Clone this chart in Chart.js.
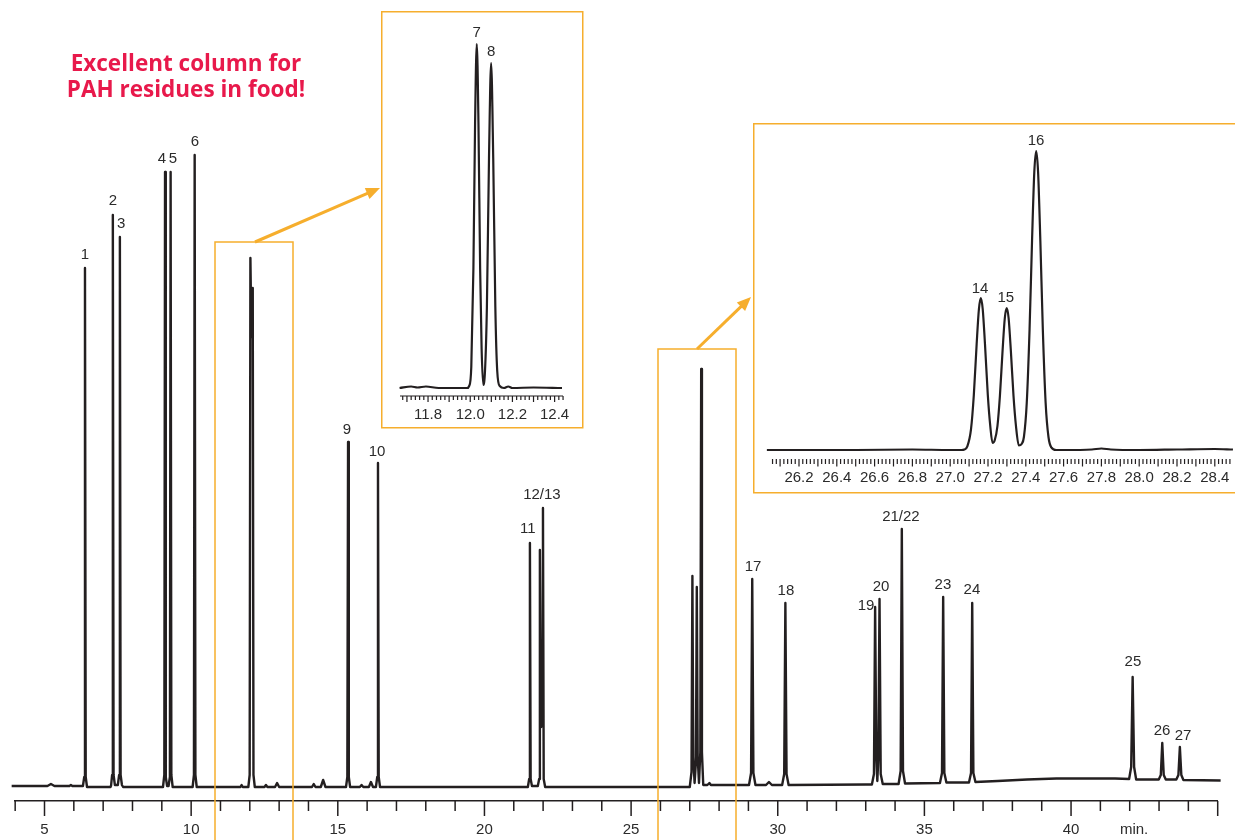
<!DOCTYPE html>
<html><head><meta charset="utf-8">
<script src="https://cdn.jsdelivr.net/npm/chart.js@4.4.1/dist/chart.umd.min.js"></script>
<style>
html,body{margin:0;padding:0;background:#fff;}
body{width:1235px;height:840px;position:relative;overflow:hidden;}
canvas{position:absolute;display:block;}
.bg{position:absolute;background:#fff;}
#main{left:0;top:0;}
#inset1{left:381px;top:11px;}
#inset2{left:753px;top:123px;}
#title{position:absolute;left:36px;top:50px;width:300px;text-align:center;font:700 22.5px/25.6px "Open Sans",sans-serif;color:#e8194b;}
svg{position:absolute;left:0;top:0;pointer-events:none;}
</style></head>
<body>
<canvas id="main" width="1235" height="840"></canvas>
<div class="bg" style="left:381px;top:11px;width:202px;height:417px;"></div>
<div class="bg" style="left:753px;top:123px;width:482px;height:370px;"></div>
<canvas id="inset1" width="260" height="417"></canvas>
<canvas id="inset2" width="540" height="370"></canvas>
<svg width="1235" height="840">
  <g fill="none" stroke="#f6ae2d" stroke-width="1.5">
    <rect x="215" y="242" width="78" height="640"/>
    <rect x="658" y="349" width="78" height="540"/>
    <rect x="381.75" y="11.75" width="201" height="416"/>
    <rect x="753.75" y="123.75" width="520" height="369"/>
  </g>
  <g stroke="#f6ae2d" stroke-width="3" fill="#f6ae2d">
    <line x1="255" y1="242" x2="368" y2="193.2"/>
    <polygon points="380,188 369.5,199.1 364.8,188.0" stroke="none"/>
    <line x1="697" y1="349" x2="741.5" y2="306.2"/>
    <polygon points="751,297 745.1,311.0 736.8,302.4" stroke="none"/>
  </g>
</svg>
<div id="title">Excellent column for<br>PAH residues in food!</div>
<script>
// ---------- data ----------
// main chromatogram trace: [retention time (min), detector signal]
const mainTrace = [
 [3.88,1],[5.10,1],[5.22,3],[5.34,1],[5.85,1],[5.90,2],[5.95,1],
 [6.31,1],[6.355,10],[6.38,519],[6.405,10],[6.45,0],
 [7.25,0],[7.27,1.5],[7.305,12],[7.33,572],[7.355,12],[7.40,2],[7.50,2],[7.545,12],[7.57,550],[7.595,12],[7.64,2],[7.68,0],
 [9.04,0],[9.085,12],[9.11,615],[9.135,10],[9.18,1],[9.23,1],[9.275,10],[9.30,615],[9.325,12],[9.37,0],
 [10.05,0],[10.095,12],[10.12,632],[10.145,12],[10.19,0],
 [11.68,0],[11.72,2],[11.76,0],
 [11.95,0],[11.995,12],[12.02,529],[12.055,450],[12.10,499],[12.125,12],[12.17,0],
 [12.50,0],[12.55,2],[12.60,0],[12.86,0],[12.93,4],[13.00,0],
 [14.12,0],[14.18,3],[14.24,0],[14.42,0],[14.50,7],[14.58,0],
 [15.28,0],[15.325,10],[15.35,345],[15.375,10],[15.42,0],
 [15.75,0],[15.81,2],[15.87,0],[16.06,0],[16.13,5],[16.20,0],
 [16.30,0],[16.345,10],[16.37,324],[16.395,10],[16.44,0],
 [21.48,0],[21.525,8],[21.55,244],[21.575,8],[21.62,1],
 [21.82,1],[21.865,8],[21.89,237],[21.935,60],[21.97,80],[21.995,279],[22.02,8],[22.07,0],
 [27.00,0],[27.06,15],[27.09,211],[27.12,30],[27.165,4],[27.21,25],[27.24,200],[27.27,30],[27.315,4],[27.36,35],[27.39,418],[27.415,35],[27.46,2],
 [27.60,2],[27.67,4],[27.72,2],
 [29.02,2],[29.09,14],[29.13,208],[29.17,14],[29.24,2],
 [29.60,2],[29.70,5],[29.80,2],
 [30.15,2],[30.22,13],[30.26,184],[30.30,13],[30.37,2],
 [33.00,2.5],
 [33.21,2.5],[33.28,13],[33.32,180],[33.36,30],[33.395,6],[33.43,30],[33.47,188],[33.51,13],[33.58,3],
 [34.12,3],[34.19,16],[34.23,258],[34.27,16],[34.34,3.5],
 [35.53,4],[35.60,14],[35.64,190],[35.68,14],[35.75,4.5],
 [36.52,4.5],[36.59,14],[36.63,184],[36.67,14],[36.74,5],
 [37.50,6],[38.50,7.5],[39.50,8.5],[40.50,8.5],[41.50,8.5],
 [41.98,8],[42.05,20],[42.10,110],[42.15,20],[42.22,7.5],
 [42.99,7.5],[43.06,12],[43.11,44],[43.16,12],[43.23,7.5],
 [43.59,7.5],[43.66,12],[43.71,40],[43.76,12],[43.83,7],
 [45.10,6.5]
];
const mainTickValues = [5,10,15,20,25,30,35,40];
const mainUnitLabel = 'min.';
const peakLabels      = ['1','2','3','4','5','6','9','10','11','12/13','17','18','19','20','21/22','23','24','25','26','27'];
const peakLabelTime   = [6.38,7.335,7.61,9.006,9.38,10.13,15.31,16.34,21.48,21.96,29.16,30.28,33.01,33.52,34.20,35.63,36.62,42.11,43.10,43.82];
const peakLabelSignal = [532,586,563,628,628,645,357,335,258,292,220,196,181,200,270,202,197,125,56,51];

// inset 1: peaks 7 / 8
const inset1Trace = [
 [11.665,0],[11.72,1.5],[11.75,0.5],[11.79,1.5],[11.85,0],[11.985,0],[11.995,2],[12.005,21],[12.015,119],[12.023,265],[12.031,344],
 [12.039,265],[12.047,119],[12.054,39],[12.062,3],[12.07,17],[12.079,81],[12.089,230],[12.099,325],[12.109,230],
 [12.119,81],[12.128,17],[12.14,2],[12.16,0],[12.18,1.5],[12.20,0],[12.30,0.5],[12.435,0]
];
const inset1TickValues = [11.8,12.0,12.2,12.4];
const inset1Labels = ['7','8'];
const inset1LabelTime = [12.031,12.099];
const inset1LabelSignal = [355,336];

// inset 2: peaks 14 / 15 / 16
const inset2Trace = [
 [26.03,0],[26.5,0],[26.8,0.5],[27.0,0],[27.06,0],[27.075,0.5],[27.09,3.3],[27.11,20.6],[27.125,55],[27.14,106],[27.152,141],[27.162,152],
 [27.172,141],[27.184,106],[27.199,55],[27.212,24],[27.224,7],[27.236,10],[27.25,24],[27.263,54],[27.277,99],
 [27.289,132],[27.299,142],[27.309,132],[27.321,99],[27.335,54],[27.348,24],[27.363,4.5],[27.378,6],[27.39,13],
 [27.405,47],[27.42,121],[27.433,209],[27.445,278],[27.455,299],[27.465,278],[27.477,209],[27.49,121],[27.505,47],
 [27.52,13],[27.535,2.6],[27.56,0],[27.6,0],[27.75,0.5],[27.8,1.5],[27.85,0.5],[28.0,0],[28.2,0.5],[28.4,1],[28.496,0.5]
];
const inset2TickValues = [26.2,26.4,26.6,26.8,27.0,27.2,27.4,27.6,27.8,28.0,28.2,28.4];
const inset2Labels = ['14','15','16'];
const inset2LabelTime = [27.158,27.294,27.454];
const inset2LabelSignal = [161,152,309];

// ---------- drawing ----------
const INK = '#231f20';
const TXT = '#2b2b2b';
const FONT = '"Liberation Sans", Arial, sans-serif';
Chart.defaults.font.family = FONT;

const tickMarks = {
  id: 'tickMarks',
  afterDraw(chart, args, o) {
    const xs = chart.scales.x, ctx = chart.ctx, b = chart.chartArea.bottom;
    ctx.save();
    ctx.strokeStyle = INK; ctx.lineWidth = o.width;
    const n = Math.round((o.to - o.from) / o.step);
    ctx.beginPath();
    for (let i = 0; i <= n; i++) {
      const v = o.from + i * o.step;
      const r = v / o.major;
      const isMajor = Math.abs(r - Math.round(r)) < 1e-6;
      const px = xs.getPixelForValue(v);
      ctx.moveTo(px, b + o.y0);
      ctx.lineTo(px, b + o.y0 + (isMajor ? o.majorLen : o.minorLen));
    }
    if (o.line) {
      ctx.moveTo(xs.getPixelForValue(o.line[0]), b + o.y0);
      ctx.lineTo(xs.getPixelForValue(o.line[1]), b + o.y0);
    }
    ctx.stroke();
    if (o.unit) {
      ctx.fillStyle = TXT; ctx.font = '15px ' + FONT;
      ctx.textAlign = 'center'; ctx.textBaseline = 'middle';
      ctx.fillText(o.unit.text, xs.getPixelForValue(o.unit.at), b + o.unit.dy);
    }
    ctx.restore();
  }
};
const peakText = {
  id: 'peakText',
  afterDatasetsDraw(chart, args, o) {
    const xs = chart.scales.x, ys = chart.scales.y, ctx = chart.ctx;
    ctx.save();
    ctx.fillStyle = TXT; ctx.font = '15px ' + FONT;
    ctx.textAlign = 'center'; ctx.textBaseline = 'middle';
    o.text.forEach((t, i) => ctx.fillText(t, xs.getPixelForValue(o.t[i]), ys.getPixelForValue(o.s[i])));
    ctx.restore();
  }
};

function makeChart(id, trace, cfg) {
  return new Chart(document.getElementById(id), {
    type: 'line',
    data: { datasets: [{
      data: trace.map(p => ({ x: p[0], y: p[1] })),
      borderColor: INK, borderWidth: cfg.lw, pointRadius: 0,
      tension: 0, cubicInterpolationMode: cfg.smooth ? 'monotone' : 'default',
      borderJoinStyle: 'round', fill: false, clip: false
    }]},
    options: {
      responsive: false, animation: false, events: [],
      layout: { padding: cfg.pad },
      plugins: { legend: { display: false }, tooltip: { enabled: false },
        tickMarks: cfg.marks, peakText: cfg.labels },
      scales: {
        x: { type: 'linear', min: cfg.xmin, max: cfg.xmax,
          afterBuildTicks: s => { s.ticks = cfg.tickValues.map(v => ({ value: v })); },
          afterFit: s => { s.height = cfg.axisH; },
          grid: { display: false, drawTicks: false },
          border: { display: !!cfg.border, color: INK, width: 1.5 },
          ticks: { padding: cfg.tickPad, color: TXT, font: { size: 15 }, autoSkip: false, maxRotation: 0,
            callback: cfg.fmt } },
        y: { type: 'linear', display: false, min: cfg.ymin, max: cfg.ymax }
      }
    },
    plugins: [tickMarks, peakText]
  });
}

makeChart('main', mainTrace, {
  lw: 2.4, smooth: false,
  pad: { left: 15.17, right: 17.3, top: 0, bottom: 0 },
  xmin: 4, xmax: 45, ymin: -14, ymax: 787,
  tickValues: mainTickValues, axisH: 39, tickPad: 20, border: true,
  fmt: v => String(v),
  marks: { from: 4, to: 45, step: 1, major: 5, y0: 0, minorLen: 10, majorLen: 15, width: 1.5,
    unit: { text: mainUnitLabel, at: 42.15, dy: 29 } },
  labels: { text: peakLabels, t: peakLabelTime, s: peakLabelSignal }
});

makeChart('inset1', inset1Trace, {
  lw: 2.2, smooth: true,
  pad: { left: 17.5, right: 79, top: 19, bottom: 0 },
  xmin: 11.66, xmax: 12.435, ymin: 0, ymax: 358,
  tickValues: inset1TickValues, axisH: 40, tickPad: 18,
  fmt: v => v.toFixed(1),
  marks: { from: 11.68, to: 12.44, step: 0.02, major: 0.1, y0: 8, minorLen: 4, majorLen: 6, width: 1.2,
    line: [11.667, 12.44] },
  labels: { text: inset1Labels, t: inset1LabelTime, s: inset1LabelSignal }
});

makeChart('inset2', inset2Trace, {
  lw: 2.2, smooth: true,
  pad: { left: 14, right: 60, top: 17, bottom: 0 },
  xmin: 26.0307, xmax: 28.4963, ymin: 0, ymax: 310,
  tickValues: inset2TickValues, axisH: 43, tickPad: 19,
  fmt: v => v.toFixed(1),
  marks: { from: 26.06, to: 28.48, step: 0.02, major: 0.1, y0: 9, minorLen: 5, majorLen: 7.5, width: 1.2 },
  labels: { text: inset2Labels, t: inset2LabelTime, s: inset2LabelSignal }
});
</script>
</body></html>
